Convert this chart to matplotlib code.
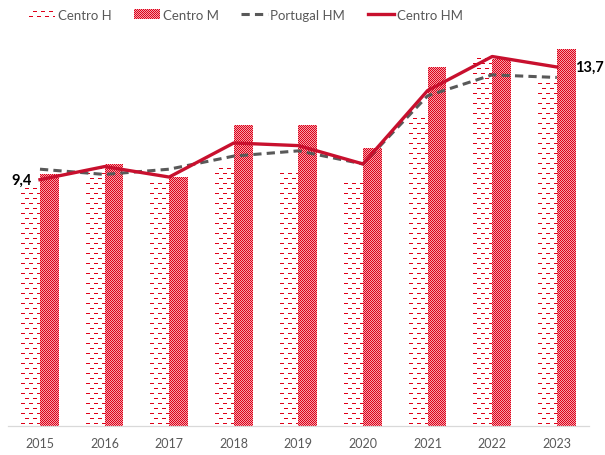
import numpy as np
import matplotlib.pyplot as plt
from matplotlib.patches import Patch
from matplotlib.lines import Line2D

plt.rcParams['font.family'] = ['Lato', 'DejaVu Sans']

anos = ['2015', '2016', '2017', '2018', '2019', '2020', '2021', '2022', '2023']
centro_h = [9.1, 9.9, 9.4, 9.9, 9.7, 9.4, 11.9, 14.2, 13.1]
centro_m = [9.6, 10.0, 9.5, 11.5, 11.5, 10.6, 13.7, 14.0, 14.4]
portugal_hm = [9.8, 9.6, 9.8, 10.3, 10.5, 10.0, 12.6, 13.4, 13.3]
centro_hm = [9.4, 9.9, 9.5, 10.8, 10.7, 10.0, 12.8, 14.1, 13.7]

vermelho = '#c8102e'
cinza = '#595959'
red_rgb = np.array([222, 0, 24]) / 255
rosa_rgb = np.array([244, 160, 170]) / 255


# padrao tracejado (Centro H)
def textura_h(ny, nx, ox, oy):
    img = np.ones((ny, nx, 3))
    for j in range(ny):
        if j % 5 != 2:
            continue
        off = 4 * ((j // 5) % 2)
        for i in range(nx):
            if (i + off) % 8 < 4:
                img[j, i] = red_rgb
    return img


# padrao xadrez (Centro M), fase presa aos pixels da figura
def textura_m(ny, nx, ox, oy):
    img = np.empty((ny, nx, 3))
    img[:] = rosa_rgb
    jj, ii = np.mgrid[0:ny, 0:nx]
    img[(ii + ox + jj + oy) % 2 == 0] = red_rgb
    return img


fig = plt.figure(figsize=(6.05, 4.56), dpi=100)
ax = fig.add_axes([0.0127, 0.0636, 0.961, 0.862])
ax.patch.set_visible(False)

x = np.arange(len(anos))
bw = 0.29
bars_h = ax.bar(x - bw / 2, centro_h, bw, color='none', linewidth=0)
bars_m = ax.bar(x + bw / 2, centro_m, bw, color='none', linewidth=0)
ax.set_xlim(-0.5, 8.5)
ax.set_ylim(0, 15)


# carimba a textura em pixels exactos, por baixo do eixo
def carimbar(x0, y0, x1, y1, textura):
    px0, py0 = int(round(x0)), int(round(y0))
    nx, ny = int(round(x1)) - px0, int(round(y1)) - py0
    if nx > 0 and ny > 0:
        fig.figimage(textura(ny, nx, px0, py0), xo=px0, yo=py0, origin='lower', zorder=-1)


def preencher(bars, textura):
    for b in bars:
        x0, y0 = b.get_x(), b.get_y()
        x1, y1 = x0 + b.get_width(), y0 + b.get_height()
        (px0, py0), (px1, py1) = ax.transData.transform([(x0, y0), (x1, y1)])
        carimbar(px0, py0, px1, py1, textura)


preencher(bars_h, textura_h)
preencher(bars_m, textura_m)

ax.plot(x, portugal_hm, color=cinza, lw=2.2, dashes=(2.7, 1.7), zorder=3)
ax.plot(x, centro_hm, color=vermelho, lw=2.4, zorder=4)

ax.annotate('9,4', xy=(0, centro_hm[0]), xytext=(-6, 0), textcoords='offset points',
            ha='right', va='center', fontsize=10.5, fontweight='bold')
ax.annotate('13,7', xy=(8, centro_hm[-1]), xytext=(13, 0), textcoords='offset points',
            ha='left', va='center', fontsize=10.5, fontweight='bold', annotation_clip=False)

ax.set_xticks(x)
ax.set_xticklabels(anos, color=cinza, fontsize=9)
ax.tick_params(axis='x', length=0, pad=8)
ax.set_yticks([])
for s in ['top', 'right', 'left']:
    ax.spines[s].set_visible(False)
ax.spines['bottom'].set_color('#d9d9d9')
ax.spines['bottom'].set_linewidth(0.9)

handles = [
    Patch(facecolor='none', linewidth=0),
    Patch(facecolor='none', linewidth=0),
    Line2D([], [], color=cinza, lw=2.2, dashes=(2.7, 1.7)),
    Line2D([], [], color=vermelho, lw=2.4),
]
labels = ['Centro H', 'Centro M', 'Portugal HM', 'Centro HM']
leg = fig.legend(handles, labels, loc='upper left', bbox_to_anchor=(0.028, 1.005),
                 ncol=4, frameon=False, fontsize=9.5, handlelength=2.0,
                 handletextpad=0.2, columnspacing=1.7, labelcolor=cinza)

fig.canvas.draw()
for h, tex in zip(leg.legend_handles[:2], [textura_h, textura_m]):
    bb = h.get_window_extent()
    carimbar(bb.x0, bb.y0, bb.x1, bb.y1, tex)

fig.savefig('out.png', dpi=100)
